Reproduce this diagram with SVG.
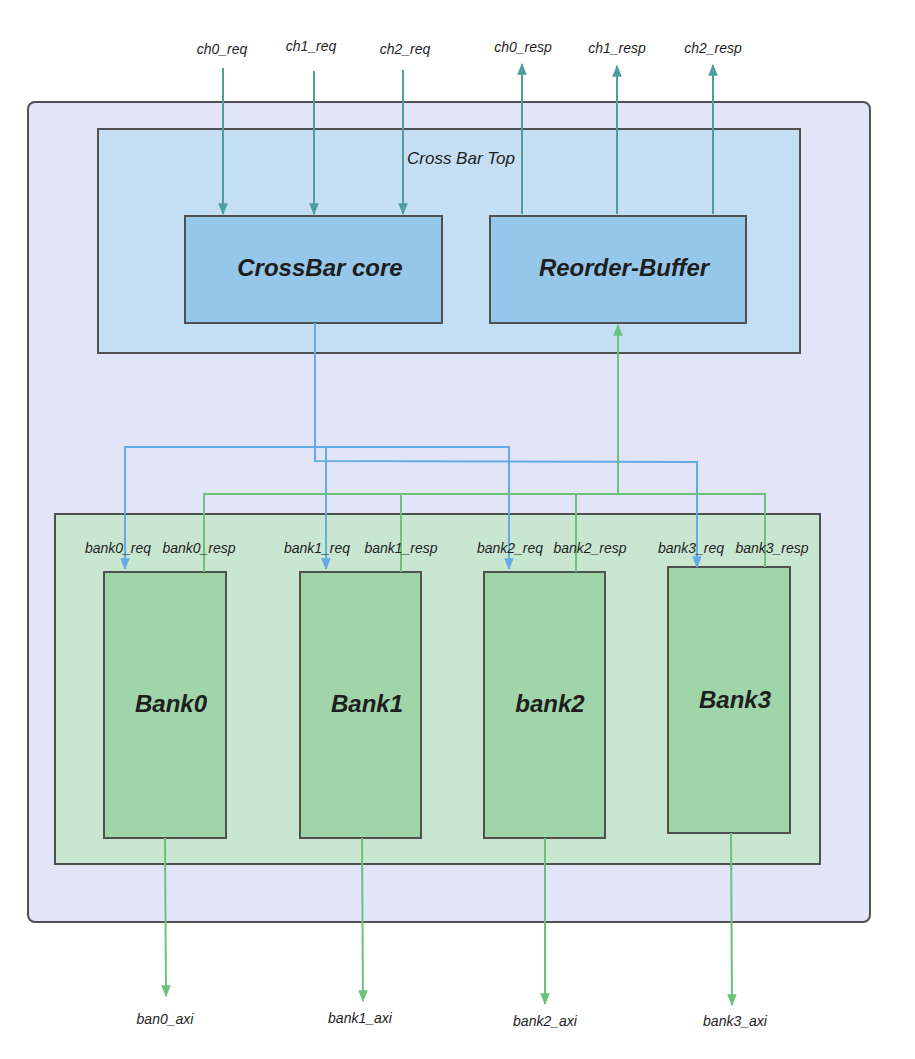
<svg xmlns="http://www.w3.org/2000/svg" width="915" height="1059" viewBox="0 0 915 1059">
<defs>
<style>
.box{stroke:#505050;stroke-width:2}
.lbl{font-family:"Liberation Sans",Arial,sans-serif;font-style:italic;font-size:14px;fill:#1e1e1e;text-anchor:middle}
.title{font-family:"Liberation Sans",Arial,sans-serif;font-style:italic;font-size:17px;fill:#1e1e1e;text-anchor:middle}
.big{font-family:"Liberation Sans",Arial,sans-serif;font-style:italic;font-weight:bold;font-size:24px;fill:#1e1e1e;text-anchor:middle}
.teal{stroke:#4f9e9e;stroke-width:2;fill:none}
.blue{stroke:#62abe4;stroke-width:2;fill:none}
.green{stroke:#6cc17d;stroke-width:2;fill:none}
</style>
<marker id="aT" viewBox="0 0 10 10" refX="9" refY="5" markerWidth="6" markerHeight="6" orient="auto"><path d="M0,1 L10,5 L0,9 z" fill="#4f9e9e"/></marker>
<marker id="aB" viewBox="0 0 10 10" refX="9" refY="5" markerWidth="6" markerHeight="6" orient="auto"><path d="M0,1 L10,5 L0,9 z" fill="#62abe4"/></marker>
<marker id="aG" viewBox="0 0 10 10" refX="9" refY="5" markerWidth="6" markerHeight="6" orient="auto"><path d="M0,1 L10,5 L0,9 z" fill="#6cc17d"/></marker>
</defs>
<rect width="915" height="1059" fill="#ffffff"/>

<g id="outer"><rect class="box" x="28" y="102" width="842" height="820" rx="7" fill="#e2e5f8"/></g>
<g id="crossbar-top"><rect class="box" x="98" y="129" width="702" height="224" fill="#c4dff3"/>
<text class="title" x="461" y="164">Cross Bar Top</text></g>
<g id="crossbar-core"><rect class="box" x="185" y="216" width="257" height="107" fill="#95c7ea"/>
<text class="big" x="320" y="276">CrossBar core</text></g>
<g id="reorder-buffer"><rect class="box" x="490" y="216" width="256" height="107" fill="#95c7ea"/>
<text class="big" x="624" y="276">Reorder-Buffer</text></g>
<g id="bank-area"><rect class="box" x="55" y="514" width="765" height="350" fill="#c9e6d1"/></g>
<g id="bank0"><rect class="box" x="104" y="572" width="122" height="266" fill="#a0d5a9"/>
<text class="big" x="171" y="712">Bank0</text></g>
<g id="bank1"><rect class="box" x="300" y="572" width="121" height="266" fill="#a0d5a9"/>
<text class="big" x="367" y="712">Bank1</text></g>
<g id="bank2"><rect class="box" x="484" y="572" width="121" height="266" fill="#a0d5a9"/>
<text class="big" x="550" y="712">bank2</text></g>
<g id="bank3"><rect class="box" x="668" y="567" width="122" height="266" fill="#a0d5a9"/>
<text class="big" x="735" y="708">Bank3</text></g>

<g id="connectors">
<line class="teal" x1="223" y1="68" x2="223" y2="214" marker-end="url(#aT)"/>
<line class="teal" x1="314" y1="71" x2="314" y2="214" marker-end="url(#aT)"/>
<line class="teal" x1="403" y1="70" x2="403" y2="214" marker-end="url(#aT)"/>
<line class="teal" x1="522" y1="214" x2="522" y2="64" marker-end="url(#aT)"/>
<line class="teal" x1="617" y1="214" x2="617" y2="66" marker-end="url(#aT)"/>
<line class="teal" x1="713" y1="214" x2="713" y2="65" marker-end="url(#aT)"/>

<polyline class="blue" points="315,323 315,461 697,462 697,567" marker-end="url(#aB)"/>
<polyline class="blue" points="125,569 125,447 509,447 509,569" marker-end="url(#aB)"/>
<line class="blue" x1="125" y1="460" x2="125" y2="569" marker-end="url(#aB)"/>
<line class="blue" x1="326" y1="447" x2="326" y2="569" marker-end="url(#aB)"/>

<polyline class="green" points="204,572 204,494 765,494 765,567"/>
<line class="green" x1="401" y1="494" x2="401" y2="572"/>
<line class="green" x1="576" y1="494" x2="576" y2="572"/>
<line class="green" stroke-width="3" x1="618" y1="494" x2="618" y2="325" marker-end="url(#aG)"/>

<line class="green" x1="165" y1="838" x2="166" y2="996" marker-end="url(#aG)"/>
<line class="green" x1="362" y1="838" x2="363" y2="1001" marker-end="url(#aG)"/>
<line class="green" x1="545" y1="838" x2="545" y2="1004" marker-end="url(#aG)"/>
<line class="green" x1="731" y1="833" x2="732" y2="1005" marker-end="url(#aG)"/>
</g>

<g id="labels">
<text class="lbl" x="222" y="54">ch0_req</text>
<text class="lbl" x="311" y="51">ch1_req</text>
<text class="lbl" x="405" y="54">ch2_req</text>
<text class="lbl" x="523" y="52">ch0_resp</text>
<text class="lbl" x="617" y="53">ch1_resp</text>
<text class="lbl" x="713" y="53">ch2_resp</text>
<text class="lbl" x="118" y="553">bank0_req</text>
<text class="lbl" x="199" y="553">bank0_resp</text>
<text class="lbl" x="317" y="553">bank1_req</text>
<text class="lbl" x="401" y="553">bank1_resp</text>
<text class="lbl" x="510" y="553">bank2_req</text>
<text class="lbl" x="590" y="553">bank2_resp</text>
<text class="lbl" x="691" y="553">bank3_req</text>
<text class="lbl" x="772" y="553">bank3_resp</text>
<text class="lbl" x="165" y="1024">ban0_axi</text>
<text class="lbl" x="360" y="1023">bank1_axi</text>
<text class="lbl" x="545" y="1026">bank2_axi</text>
<text class="lbl" x="735" y="1026">bank3_axi</text>
</g>
</svg>
